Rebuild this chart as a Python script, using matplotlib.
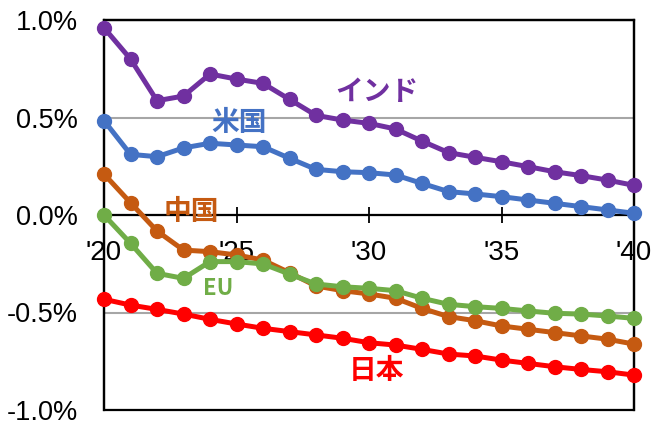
import matplotlib
matplotlib.use("Agg")
import matplotlib.pyplot as plt
from matplotlib.patches import Rectangle
from matplotlib.ticker import FuncFormatter

plt.rcParams['font.family'] = ['Liberation Sans', 'Noto Sans CJK JP', 'DejaVu Sans']

years = list(range(2020, 2041))

india = [0.96, 0.80, 0.586, 0.61, 0.723, 0.697, 0.675, 0.593, 0.511, 0.487,
         0.470, 0.441, 0.379, 0.320, 0.296, 0.273, 0.248, 0.222, 0.202, 0.179, 0.152]
usa = [0.484, 0.311, 0.299, 0.344, 0.368, 0.359, 0.350, 0.291, 0.234, 0.222,
       0.217, 0.205, 0.162, 0.120, 0.108, 0.094, 0.077, 0.060, 0.043, 0.026, 0.009]
china = [0.21, 0.063, -0.082, -0.18, -0.188, -0.205, -0.231, -0.296, -0.364, -0.388,
         -0.405, -0.427, -0.479, -0.521, -0.542, -0.569, -0.586, -0.603, -0.620, -0.637, -0.662]
eu = [0.0, -0.145, -0.299, -0.325, -0.239, -0.239, -0.251, -0.303, -0.354, -0.368,
      -0.376, -0.388, -0.427, -0.458, -0.470, -0.479, -0.492, -0.504, -0.508, -0.518, -0.530]
japan = [-0.432, -0.462, -0.484, -0.508, -0.535, -0.559, -0.581, -0.598, -0.615, -0.632,
         -0.655, -0.667, -0.689, -0.713, -0.723, -0.744, -0.761, -0.778, -0.792, -0.804, -0.821]

series = [
    ('インド', india, '#7030A0', (2030.3, 0.63), 20),
    ('米国', usa, '#4472C4', (2025.1, 0.47), 20),
    ('中国', china, '#C55A11', (2023.3, 0.015), 20),
    ('EU', eu, '#70AD47', (2024.3, -0.375), 16),
    ('日本', japan, '#FF0000', (2030.3, -0.80), 20),
]

x_ticks = [2020, 2025, 2030, 2035, 2040]
y_ticks = [-1.0, -0.5, 0.0, 0.5, 1.0]

fig = plt.figure(figsize=(6.52, 4.22), dpi=100)
ax = fig.add_axes([104 / 652, 1 - 410 / 422, 530 / 652, 390 / 422])

for name, vals, color, pos, fs in series:
    ax.plot(years, vals, color=color, lw=3.6, marker='o', ms=10,
            clip_on=False, zorder=3)
    ax.text(pos[0], pos[1], name, color=color, fontsize=fs, fontweight='bold',
            ha='center', va='center', family=['Noto Sans CJK JP', 'DejaVu Sans'],
            zorder=4)

ax.set_xlim(2020, 2040)
ax.set_ylim(-1.0, 1.0)
ax.set_xticks(x_ticks)
ax.set_xticklabels(["'" + str(y)[2:] for y in x_ticks])
ax.set_yticks(y_ticks)
ax.yaxis.set_major_formatter(FuncFormatter(lambda v, p: f'{v:.1f}%'))

ax.grid(axis='y', color='#A6A6A6', lw=1.5, zorder=1)
ax.set_axisbelow(True)

# x axis sits on zero, the box frame stays around the whole plot
ax.spines['bottom'].set_position(('data', 0))
for s in ax.spines.values():
    s.set_linewidth(1.6)
    s.set_color('black')
ax.add_patch(Rectangle((0, 0), 1, 1, transform=ax.transAxes, fill=False,
                       ec='black', lw=1.6, clip_on=False, zorder=2.6))

ax.tick_params(axis='x', direction='inout', length=12, width=1.3,
               labelsize=20, pad=12)
ax.tick_params(axis='y', length=0, labelsize=19.5, pad=19)

fig.savefig('out.png', dpi=100)
